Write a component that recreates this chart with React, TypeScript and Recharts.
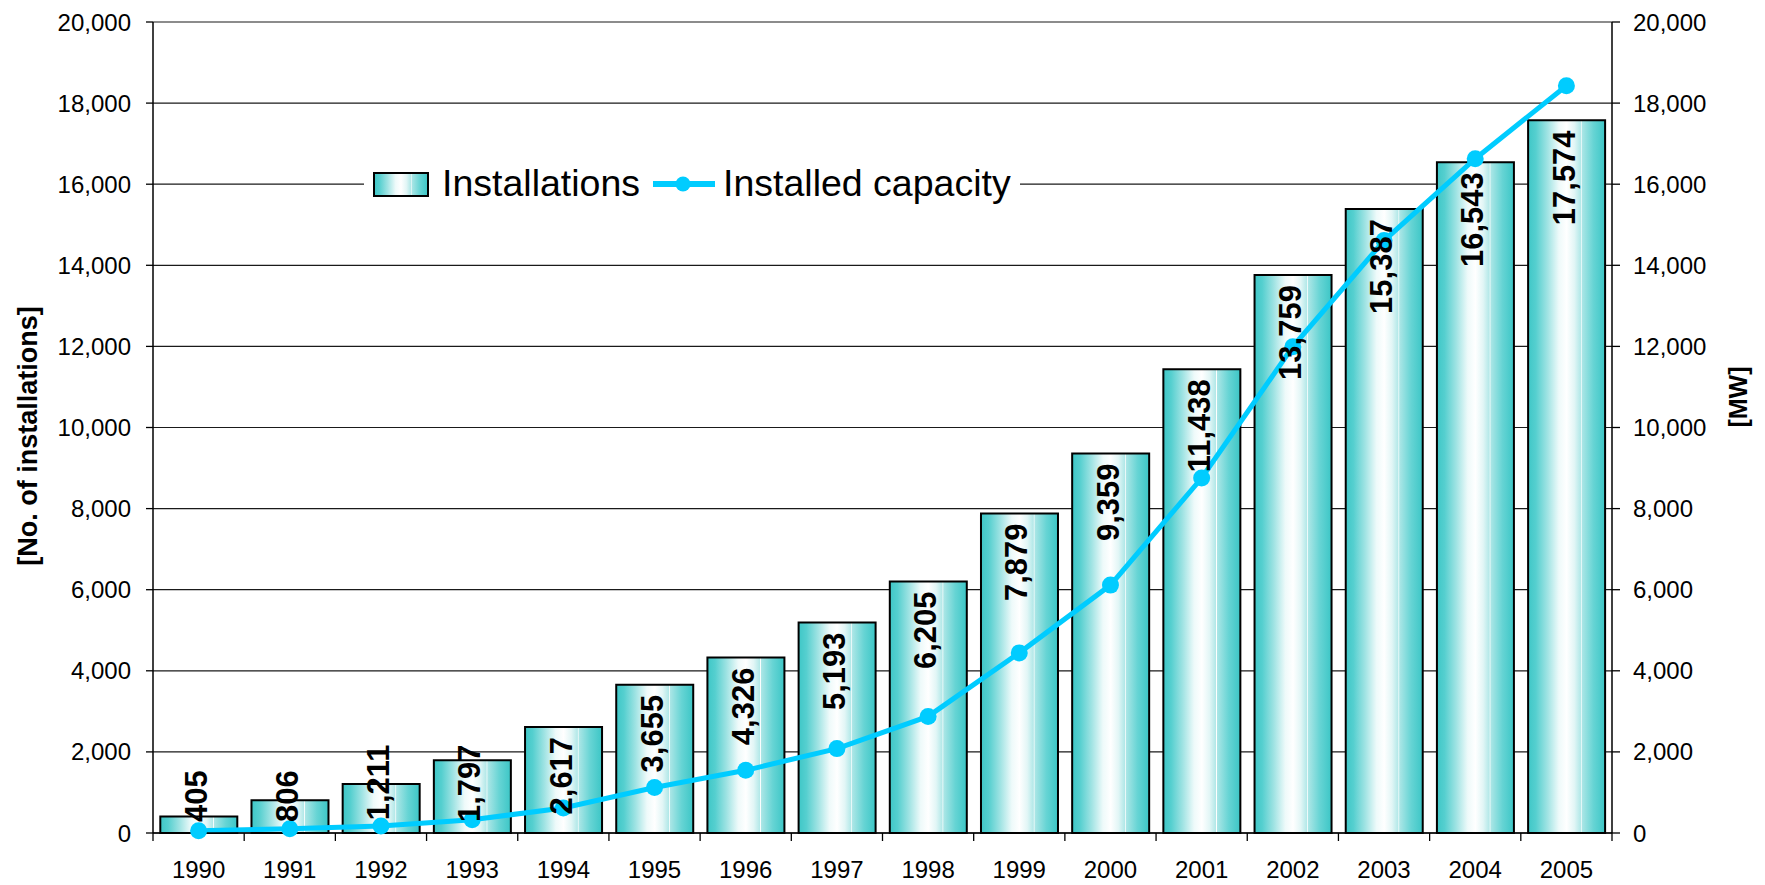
import React from 'react';
import {
  ComposedChart,
  Bar,
  Line,
  XAxis,
  YAxis,
  CartesianGrid,
  Legend,
  LabelList,
} from 'recharts';

// ---- data ----
const years = ['1990', '1991', '1992', '1993', '1994', '1995', '1996', '1997', '1998', '1999', '2000', '2001', '2002', '2003', '2004', '2005'];
const installations = [405, 806, 1211, 1797, 2617, 3655, 4326, 5193, 6205, 7879, 9359, 11438, 13759, 15387, 16543, 17574];
const capacity = [56, 106, 174, 326, 618, 1121, 1546, 2081, 2875, 4442, 6113, 8754, 11994, 14609, 16629, 18428];
const yTicks = [0, 2000, 4000, 6000, 8000, 10000, 12000, 14000, 16000, 18000, 20000];

const data = years.map((year, i) => ({ year, installations: installations[i], capacity: capacity[i] }));

// ---- layout ----
const W = 1765;
const H = 885;
const margin = { top: 22, right: 53, bottom: 12, left: 53 };
const axisW = 100;
const xAxisH = 40;
const plotLeft = margin.left + axisW;
const plotRight = W - margin.right - axisW;
const plotBottom = H - margin.bottom - xAxisH;
const band = (plotRight - plotLeft) / years.length;

const FONT = '"Liberation Sans", Arial, Helvetica, sans-serif';
const LINE_COLOR = '#00ccff';

const fmt = (v: number) => Number(v).toLocaleString('en-US');

const gradStops = [
  { o: '0%', c: '#3fc7c7' },
  { o: '10%', c: '#55cfcf' },
  { o: '25%', c: '#9fe3e3' },
  { o: '40%', c: '#eefafa' },
  { o: '50%', c: '#ffffff' },
  { o: '60%', c: '#e2f6f6' },
  { o: '68%', c: '#b2e8e8' },
  { o: '69%', c: '#ffffff' },
  { o: '70%', c: '#abe6e6' },
  { o: '85%', c: '#66d4d4' },
  { o: '100%', c: '#3cc6c6' },
];

const YearTick = (props: any) => {
  const { x, y, payload, index } = props;
  const axisY = y - 8;
  const left = x - band / 2;
  const right = x + band / 2;
  return (
    <g>
      <line x1={left} x2={left} y1={axisY} y2={axisY + 8} stroke="#000" strokeWidth={1.3} />
      {index === years.length - 1 && (
        <line x1={right} x2={right} y1={axisY} y2={axisY + 8} stroke="#000" strokeWidth={1.3} />
      )}
      <text x={x} y={axisY + 45} textAnchor="middle" fontSize={24} fontFamily={FONT} fill="#000">
        {payload.value}
      </text>
    </g>
  );
};

const BarValueLabel = (props: any) => {
  const vb = props.viewBox && props.viewBox.width !== undefined ? props.viewBox : props;
  const { x, y, width } = vb;
  const value = props.value;
  if (value === undefined || value === null) return null;
  const fs = 31;
  const s = fmt(value);
  let len = 0;
  for (const ch of s) len += ch === ',' ? 0.278 : 0.556;
  len *= fs;
  const top = Math.min(y + 10, plotBottom - 11 - len);
  const bx = x + width / 2 + 8;
  return (
    <text
      x={bx}
      y={top}
      transform={`rotate(-90, ${bx}, ${top})`}
      textAnchor="end"
      fontSize={fs}
      fontWeight="bold"
      fontFamily={FONT}
      fill="#000"
    >
      {s}
    </text>
  );
};

const LeftTitle = () => (
  <text
    x={37}
    y={436}
    transform="rotate(-90, 37, 436)"
    textAnchor="middle"
    fontSize={27}
    fontWeight="bold"
    fontFamily={FONT}
    fill="#000"
  >
    [No. of installations]
  </text>
);

const RightTitle = () => (
  <text
    x={1747}
    y={397}
    transform="rotate(-90, 1747, 397)"
    textAnchor="middle"
    fontSize={25}
    fontWeight="bold"
    fontFamily={FONT}
    fill="#000"
  >
    [MW]
  </text>
);

const LegendContent = () => (
  <svg width={656} height={48} style={{ display: 'block' }}>
    <defs>
      <linearGradient id="legGrad" x1="0" y1="0" x2="1" y2="0">
        {gradStops.map((s) => (
          <stop key={s.o} offset={s.o} stopColor={s.c} />
        ))}
      </linearGradient>
    </defs>
    <rect x={0} y={0} width={656} height={48} fill="#ffffff" />
    <rect x={10} y={11} width={54} height={23} fill="url(#legGrad)" stroke="#000" strokeWidth={2} />
    <text x={78} y={34} fontSize={37.5} fontFamily={FONT} fill="#000">
      Installations
    </text>
    <line x1={289} x2={351} y1={22} y2={22} stroke={LINE_COLOR} strokeWidth={6} />
    <circle cx={319} cy={22} r={7.5} fill={LINE_COLOR} />
    <text x={359} y={34} fontSize={37.5} fontFamily={FONT} fill="#000">
      Installed capacity
    </text>
  </svg>
);

export default function App() {
  return (
    <div style={{ position: 'absolute', left: 0, top: 0, width: W, height: H, background: '#fff', fontFamily: FONT }}>
      <ComposedChart width={W} height={H} data={data} margin={margin} barCategoryGap="8%">
        <defs>
          <linearGradient id="barGrad" x1="0" y1="0" x2="1" y2="0">
            {gradStops.map((s) => (
              <stop key={s.o} offset={s.o} stopColor={s.c} />
            ))}
          </linearGradient>
        </defs>
        <CartesianGrid yAxisId="left" vertical={false} stroke="#1a1a1a" strokeWidth={1.2} />
        <XAxis
          dataKey="year"
          height={xAxisH}
          interval={0}
          tickLine={false}
          tickSize={8}
          tickMargin={0}
          axisLine={{ stroke: '#000', strokeWidth: 1.5 }}
          tick={<YearTick />}
        />
        <YAxis
          yAxisId="left"
          width={axisW}
          domain={[0, 20000]}
          ticks={yTicks}
          interval={0}
          tickFormatter={fmt}
          tickSize={7}
          tickMargin={15}
          axisLine={{ stroke: '#000', strokeWidth: 1.5 }}
          tickLine={{ stroke: '#000', strokeWidth: 1.3 }}
          tick={{ fontSize: 24, fill: '#000', fontFamily: FONT }}
          label={<LeftTitle />}
        />
        <YAxis
          yAxisId="right"
          orientation="right"
          width={axisW}
          domain={[0, 20000]}
          ticks={yTicks}
          interval={0}
          tickFormatter={fmt}
          tickSize={8}
          tickMargin={13}
          axisLine={{ stroke: '#000', strokeWidth: 1.5 }}
          tickLine={{ stroke: '#000', strokeWidth: 1.3 }}
          tick={{ fontSize: 24, fill: '#000', fontFamily: FONT, textAnchor: 'start' }}
          label={<RightTitle />}
        />
        <Legend
          layout="horizontal"
          verticalAlign="middle"
          align="center"
          content={<LegendContent />}
          wrapperStyle={{ position: 'absolute', left: 364, top: 162, width: 656, height: 48 }}
        />
        <Bar
          yAxisId="left"
          dataKey="installations"
          name="Installations"
          fill="url(#barGrad)"
          stroke="#000"
          strokeWidth={2}
          isAnimationActive={false}
        >
          <LabelList dataKey="installations" content={<BarValueLabel />} />
        </Bar>
        <Line
          yAxisId="right"
          dataKey="capacity"
          name="Installed capacity"
          type="linear"
          stroke={LINE_COLOR}
          strokeWidth={5}
          dot={{ r: 8.5, fill: LINE_COLOR, stroke: LINE_COLOR, strokeWidth: 0 }}
          activeDot={false}
          isAnimationActive={false}
        />
      </ComposedChart>
    </div>
  );
}
